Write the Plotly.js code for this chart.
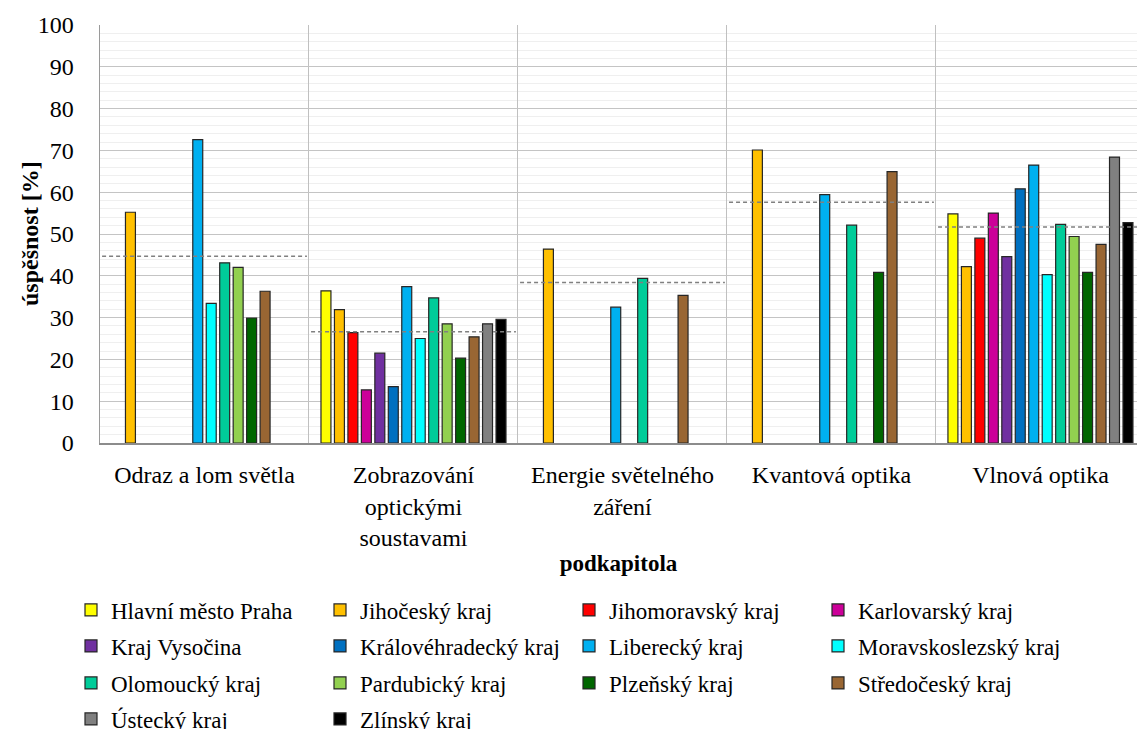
<!DOCTYPE html>
<html>
<head>
<meta charset="utf-8">
<script src="https://cdn.plot.ly/plotly-3.0.1.min.js"></script>
<style>html,body{margin:0;padding:0;overflow:hidden;background:#fff;}</style>
</head>
<body>
<div id="chart" style="width:1137px;height:729px;"></div>
<script>
const categories = ['Odraz a lom světla', 'Zobrazování<br>optickými<br>soustavami', 'Energie světelného<br>záření', 'Kvantová optika', 'Vlnová optika'];
const regionNames = ['Hlavní město Praha', 'Jihočeský kraj', 'Jihomoravský kraj', 'Karlovarský kraj', 'Kraj Vysočina', 'Královéhradecký kraj', 'Liberecký kraj', 'Moravskoslezský kraj', 'Olomoucký kraj', 'Pardubický kraj', 'Plzeňský kraj', 'Středočeský kraj', 'Ústecký kraj', 'Zlínský kraj'];
const regionColors = ['#FFFF00', '#FFC000', '#FF0000', '#CC0099', '#7030A0', '#0070C0', '#00B0F0', '#00FFFF', '#00CC99', '#92D050', '#006600', '#996633', '#808080', '#000000'];

const hlavniMestoPraha = [null, 36.4, null, null, 54.8];
const jihoceskyKraj = [55.2, 31.9, 46.4, 70.1, 42.2];
const jihomoravskyKraj = [null, 26.4, null, null, 49.0];
const karlovarskyKraj = [null, 12.7, null, null, 55.0];
const krajVysocina = [null, 21.5, null, null, 44.6];
const kralovehradeckyKraj = [null, 13.5, null, null, 60.8];
const libereckyKraj = [72.6, 37.4, 32.5, 59.4, 66.5];
const moravskoslezskyKraj = [33.4, 25.0, null, null, 40.3];
const olomouckyKraj = [43.1, 34.7, 39.4, 52.1, 52.3];
const pardubickyKraj = [42.0, 28.5, null, null, 49.4];
const plzenskyKraj = [29.9, 20.3, null, 40.8, 40.8];
const stredoceskyKraj = [36.3, 25.4, 35.3, 64.9, 47.5];
const usteckyKraj = [null, 28.5, null, null, 68.4];
const zlinskyKraj = [null, 29.6, null, null, 52.7];
const averages = [44.7, 26.6, 38.4, 57.6, 51.7];

const seriesValues = [hlavniMestoPraha, jihoceskyKraj, jihomoravskyKraj, karlovarskyKraj, krajVysocina, kralovehradeckyKraj, libereckyKraj, moravskoslezskyKraj, olomouckyKraj, pardubickyKraj, plzenskyKraj, stredoceskyKraj, usteckyKraj, zlinskyKraj];

const FONT = 'Liberation Serif, Times New Roman, serif';
const legendIds = ['legend', 'legend2', 'legend3', 'legend4'];

const traces = seriesValues.map((vals, i) => ({
  type: 'bar',
  name: regionNames[i],
  x: categories,
  y: vals,
  legend: legendIds[Math.floor(i / 4)],
  marker: { color: regionColors[i], line: { color: '#262626', width: 1.2 } },
  hoverinfo: 'name+y'
}));

const shapes = averages.map((a, i) => ({
  type: 'line', xref: 'x', yref: 'y',
  x0: i - 0.49, x1: i + 0.49, y0: a, y1: a,
  line: { color: '#808080', width: 1.5, dash: '4px,3px' },
  layer: 'above'
}));

const rowY = [610, 646, 683, 719];
const legendBase = {
  orientation: 'h',
  xref: 'container', yref: 'container',
  x: 71 / 1137, xanchor: 'left',
  yanchor: 'middle',
  entrywidth: 204, entrywidthmode: 'pixels',
  font: { family: FONT, size: 23, color: '#000' },
  bgcolor: 'rgba(0,0,0,0)',
  traceorder: 'normal'
};

const layout = {
  width: 1137, height: 729,
  margin: { l: 100, r: 0, t: 25, b: 286 },
  paper_bgcolor: '#fff', plot_bgcolor: '#fff',
  barmode: 'group',
  bargap: 0.098,
  bargroupgap: 0.26,
  font: { family: FONT, size: 24, color: '#000' },
  xaxis: {
    type: 'category',
    range: [-0.5, 4.462],
    tickson: 'boundaries',
    showgrid: true, gridcolor: '#c0c0c0', gridwidth: 1,
    showline: true, linecolor: '#8c8c8c', linewidth: 1.5,
    ticks: '',
    ticklabelstandoff: 10,
    tickfont: { family: FONT, size: 24, color: '#000' },
    title: { text: '<b>podkapitola</b>', font: { family: FONT, size: 23, color: '#000' }, standoff: 5 },
    fixedrange: true
  },
  yaxis: {
    range: [0, 100],
    dtick: 10, tick0: 0,
    showgrid: true, gridcolor: '#c4c4c4', gridwidth: 1,
    minor: { dtick: 2, showgrid: true, gridcolor: '#efefef', gridwidth: 1 },
    showline: true, linecolor: '#9a9a9a', linewidth: 1.5,
    zeroline: false,
    ticks: '',
    ticklabelstandoff: 20,
    tickfont: { family: FONT, size: 24, color: '#000' },
    fixedrange: true
  },
  annotations: [{
    text: '<b>úspěšnost [%]</b>',
    xref: 'paper', yref: 'paper',
    x: (30 - 100) / 1037, y: 0.5,
    xanchor: 'center', yanchor: 'middle',
    textangle: -90, showarrow: false,
    font: { family: FONT, size: 24, color: '#000' }
  }],
  shapes: shapes
};
legendIds.forEach((id, r) => {
  layout[id] = Object.assign({}, legendBase, { y: 1 - rowY[r] / 729 });
});

Plotly.newPlot('chart', traces, layout, { displayModeBar: false, staticPlot: true });
</script>
</body>
</html>
